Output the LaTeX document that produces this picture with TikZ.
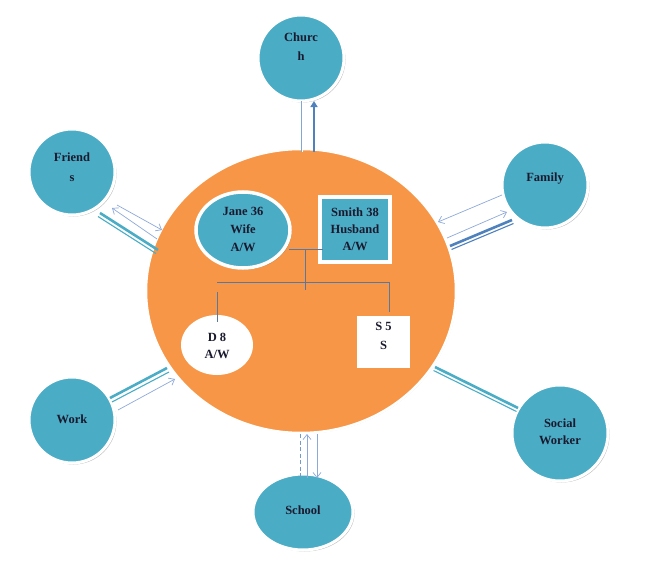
\documentclass[tikz,border=0pt]{standalone}
\usepackage{fontspec}
\setmainfont{Liberation Serif}
\usetikzlibrary{shapes.geometric,shadows,arrows.meta}
\definecolor{tealc}{HTML}{4BACC6}
\definecolor{bluec}{HTML}{4F81BD}
\definecolor{orangec}{HTML}{F79646}
\definecolor{lightarr}{HTML}{8EA9D8}
\definecolor{treec}{HTML}{5A77A0}
\definecolor{txtc}{HTML}{1A1A2E}
\begin{document}
\begin{tikzpicture}[x=1pt,y=-1pt,
  shad/.style={drop shadow={shadow xshift=1.5pt,shadow yshift=-1.5pt,opacity=0.25,fill=black}},
  outer/.style={circle,fill=tealc,draw=white,line width=3pt,inner sep=0pt,shad},
  txt/.style={align=center,text=txtc,font=\bfseries\fontsize{12.5}{19}\selectfont,inner sep=0pt},
  tree/.style={draw=treec,line width=0.8pt},
  thinarr/.style={draw=lightarr,line width=0.7pt,-{Straight Barb[length=5pt,width=8pt]}},
  thickline/.style={line width=2.6pt},
  thinline/.style={line width=1.1pt}
]
\useasboundingbox (0,0) rectangle (657,562);

% main family circle
\node[ellipse,fill=orangec,draw=white,line width=2.5pt,minimum width=310pt,minimum height=284pt,
      drop shadow={shadow xshift=0.8pt,shadow yshift=-0.8pt,opacity=0.2,fill=blue!40!gray}] (home) at (301,291) {};

% outer circles
\node[outer,minimum size=86pt] (church) at (301,58) {};
\node[txt] (churcht) at (301,47) {Churc\\h};
\node[outer,minimum size=86pt] (friends) at (72,172) {};
\node[txt,font=\bfseries\fontsize{12.5}{20}\selectfont] (friendst) at (72,167) {Friend\\s};
\node[outer,minimum size=86pt] (family) at (545,185) {};
\node[txt] (familyt) at (545,179) {Family};
\node[outer,minimum size=86pt] (work) at (72,420) {};
\node[txt] (workt) at (72,419) {Work};
\node[outer,minimum size=96pt] (social) at (560,433) {};
\node[txt,font=\bfseries\fontsize{12.5}{17}\selectfont] (socialt) at (560,432) {Social\\Worker};
\node[ellipse,fill=tealc,draw=white,line width=3pt,inner sep=0pt,shad,minimum width=100pt,minimum height=76pt] (school) at (303,512) {};
\node[txt] (schoolt) at (303,510) {School};

% inner members
\node[ellipse,fill=tealc,draw=white,line width=3.5pt,inner sep=0pt,shad,minimum width=94pt,minimum height=76pt] (jane) at (243,230) {};
\node[txt,font=\bfseries\fontsize{12.5}{18}\selectfont] (janet) at (243,229) {Jane 36\\Wife\\A/W};
\node[rectangle,fill=tealc,draw=white,line width=4pt,inner sep=0pt,shad,minimum width=70pt,minimum height=65pt] (smith) at (355,229.5) {};
\node[txt,font=\bfseries\fontsize{12.5}{17}\selectfont] (smitht) at (355,229) {Smith 38\\Husband\\A/W};
\node[ellipse,fill=white,inner sep=0pt,minimum width=72pt,minimum height=60pt] (d8) at (217,345) {};
\node[txt,font=\bfseries\fontsize{12.5}{17}\selectfont] (d8t) at (217,346) {D 8\\A/W};
\node[rectangle,fill=white,inner sep=0pt,minimum width=53pt,minimum height=52pt] (s5) at (383.5,342) {};
\node[txt] (s5t) at (383.5,335.5) {S 5\\S};

% family tree lines
\coordinate (js1) at (289,249);
\coordinate (js2) at (323,249);
\coordinate (mid) at (305,249);
\coordinate (midb) at (305,290);
\coordinate (barl) at (217,282);
\coordinate (barr) at (389,282);
\coordinate (dtop) at (217,292);
\coordinate (dend) at (217,322);
\coordinate (send) at (389,312);
\draw[tree] (js1) -- (js2);
\draw[tree] (mid) -- (midb);
\draw[tree] (barl) -- (barr);
\draw[tree] (dtop) -- (dend);
\draw[tree] (barr) -- (send);

% Church connectors
\coordinate (ch1) at (302,101);
\coordinate (ch2) at (302,152);
\coordinate (ch3) at (314,152);
\coordinate (ch4) at (314,101);
\draw[draw=bluec!70,line width=0.35pt,double=white,double distance=0.8pt] (ch1) -- (ch2);
\draw[draw=bluec,line width=2.4pt,-{Triangle[length=6pt,width=7pt]}] (ch3) -- (ch4);

% Friends connectors
\coordinate (f1) at (100,213);
\coordinate (f2) at (158,250);
\coordinate (f3) at (98,216.5);
\coordinate (f4) at (156,253.5);
\draw[draw=tealc,thickline] (f1) -- (f2);
\draw[draw=tealc,thinline] (f3) -- (f4);
\coordinate (fa1) at (117,205);
\coordinate (fa2) at (162,230);
\coordinate (fa3) at (157,239);
\coordinate (fa4) at (112,208);
\draw[thinarr] (fa1) -- (fa2);
\draw[thinarr] (fa3) -- (fa4);

% Family connectors
\coordinate (fm1) at (502,195);
\coordinate (fm2) at (438,222);
\coordinate (fm3) at (447,238);
\coordinate (fm4) at (507,212);
\draw[thinarr] (fm1) -- (fm2);
\draw[thinarr] (fm3) -- (fm4);
\coordinate (fm5) at (450,246);
\coordinate (fm6) at (512,220);
\coordinate (fm7) at (451.5,249.5);
\coordinate (fm8) at (513.5,223.5);
\draw[draw=bluec,thickline] (fm5) -- (fm6);
\draw[draw=bluec,thinline] (fm7) -- (fm8);

% Work connectors
\coordinate (w1) at (110,398);
\coordinate (w2) at (167,368);
\coordinate (w3) at (112,402);
\coordinate (w4) at (169,372);
\draw[draw=tealc,thickline] (w1) -- (w2);
\draw[draw=tealc,thinline] (w3) -- (w4);
\coordinate (wa1) at (118,410);
\coordinate (wa2) at (175,379);
\draw[thinarr] (wa1) -- (wa2);

% Social worker connectors
\coordinate (s1) at (435,367);
\coordinate (s2) at (518,408);
\coordinate (s3) at (433.5,370.5);
\coordinate (s4) at (516.5,411.5);
\draw[draw=tealc,thickline] (s1) -- (s2);
\draw[draw=tealc,thinline] (s3) -- (s4);

% School connectors
\coordinate (sc1) at (300,434);
\coordinate (sc2) at (300,478);
\coordinate (sc3) at (307,478);
\coordinate (sc4) at (307,434);
\coordinate (sc5) at (317,434);
\coordinate (sc6) at (317,478);
\draw[draw=bluec!80,line width=0.7pt,dash pattern=on 4pt off 2.5pt] (sc1) -- (sc2);
\draw[thinarr] (sc3) -- (sc4);
\draw[thinarr] (sc5) -- (sc6);
\end{tikzpicture}
\end{document}
